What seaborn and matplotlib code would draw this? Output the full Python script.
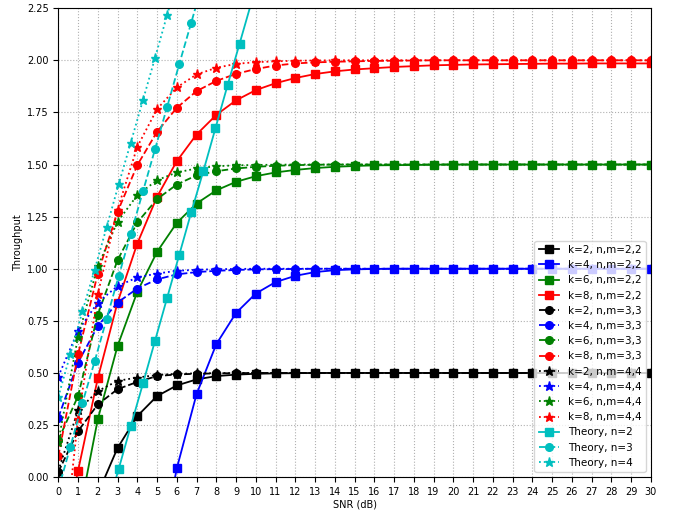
import matplotlib
matplotlib.use('Agg')
import matplotlib.pyplot as plt
import seaborn as sns

# 시뮬레이션 SNR (dB)
snr = [0, 1, 2, 3, 4, 5, 6, 7, 8, 9, 10, 11, 12, 13, 14, 15,
       16, 17, 18, 19, 20, 21, 22, 23, 24, 25, 26, 27, 28, 29, 30]

# n,m = 2,2 (square, solid)
k2_22 = [-0.6, -0.35, -0.08, 0.14, 0.293, 0.389, 0.44, 0.469, 0.485, 0.492, 0.496,
         0.498, 0.499, 0.5, 0.5, 0.5, 0.5, 0.5, 0.5, 0.5, 0.5, 0.5, 0.5, 0.5, 0.5,
         0.5, 0.5, 0.5, 0.5, 0.5, 0.5]
k4_22 = [-2.0, -1.8, -1.5, -1.2, -0.85, -0.45, 0.042, 0.398, 0.638, 0.788, 0.881,
         0.936, 0.966, 0.984, 0.993, 0.997, 0.999, 1.0, 1.0, 1.0, 1.0, 1.0, 1.0, 1.0,
         1.0, 1.0, 1.0, 1.0, 1.0, 1.0, 1.0]
k6_22 = [-0.7, -0.21, 0.278, 0.629, 0.889, 1.081, 1.22, 1.313, 1.376, 1.417, 1.444,
         1.462, 1.474, 1.483, 1.489, 1.493, 1.496, 1.497, 1.498, 1.499, 1.5, 1.5, 1.5,
         1.5, 1.5, 1.5, 1.5, 1.5, 1.5, 1.5, 1.5]
k8_22 = [-0.42, 0.03, 0.474, 0.838, 1.121, 1.345, 1.516, 1.644, 1.738, 1.808, 1.857,
         1.89, 1.915, 1.934, 1.947, 1.956, 1.962, 1.968, 1.972, 1.976, 1.978, 1.98,
         1.981, 1.982, 1.983, 1.984, 1.984, 1.985, 1.985, 1.985, 1.985]

# n,m = 3,3 (circle, dashed)
k2_33 = [0.025, 0.221, 0.349, 0.422, 0.457, 0.485, 0.493, 0.496, 0.498, 0.499, 0.5,
         0.5, 0.5, 0.5, 0.5, 0.5, 0.5, 0.5, 0.5, 0.5, 0.5, 0.5, 0.5, 0.5, 0.5,
         0.5, 0.5, 0.5, 0.5, 0.5, 0.5]
k4_33 = [0.286, 0.55, 0.725, 0.838, 0.905, 0.949, 0.973, 0.984, 0.99, 0.994, 0.997,
         0.998, 0.999, 1.0, 1.0, 1.0, 1.0, 1.0, 1.0, 1.0, 1.0, 1.0, 1.0, 1.0,
         1.0, 1.0, 1.0, 1.0, 1.0, 1.0, 1.0]
k6_33 = [0.178, 0.389, 0.78, 1.041, 1.222, 1.334, 1.404, 1.448, 1.468, 1.481, 1.489,
         1.494, 1.497, 1.499, 1.5, 1.5, 1.5, 1.5, 1.5, 1.5, 1.5, 1.5, 1.5,
         1.5, 1.5, 1.5, 1.5, 1.5, 1.5, 1.5, 1.5]
k8_33 = [0.1, 0.589, 0.977, 1.273, 1.497, 1.657, 1.772, 1.852, 1.901, 1.935, 1.958,
         1.975, 1.985, 1.99, 1.993, 1.995, 1.997, 1.998, 1.999, 2.0, 2.0, 2.0, 2.0,
         2.0, 2.0, 2.0, 2.0, 2.0, 2.0, 2.0, 2.0]

# n,m = 4,4 (star, dotted)
k2_44 = [0.03, 0.321, 0.413, 0.462, 0.478, 0.49, 0.496, 0.498, 0.499, 0.5, 0.5,
         0.5, 0.5, 0.5, 0.5, 0.5, 0.5, 0.5, 0.5, 0.5, 0.5, 0.5, 0.5, 0.5, 0.5,
         0.5, 0.5, 0.5, 0.5, 0.5, 0.5]
k4_44 = [0.483, 0.702, 0.838, 0.917, 0.958, 0.977, 0.99, 0.995, 0.998, 0.999, 1.0,
         1.0, 1.0, 1.0, 1.0, 1.0, 1.0, 1.0, 1.0, 1.0, 1.0, 1.0, 1.0, 1.0,
         1.0, 1.0, 1.0, 1.0, 1.0, 1.0, 1.0]
k6_44 = [0.17, 0.673, 1.012, 1.225, 1.353, 1.425, 1.462, 1.481, 1.492, 1.496, 1.498,
         1.499, 1.5, 1.5, 1.5, 1.5, 1.5, 1.5, 1.5, 1.5, 1.5, 1.5, 1.5,
         1.5, 1.5, 1.5, 1.5, 1.5, 1.5, 1.5, 1.5]
k8_44 = [-0.6, 0.28, 0.877, 1.284, 1.585, 1.766, 1.87, 1.932, 1.964, 1.983, 1.991,
         1.995, 1.998, 1.999, 2.0, 2.0, 2.0, 2.0, 2.0, 2.0, 2.0, 2.0, 2.0,
         2.0, 2.0, 2.0, 2.0, 2.0, 2.0, 2.0, 2.0]

# 이론값 (SNR 간격이 다름)
theory_n2_snr = [2.45, 3.06, 3.67, 4.29, 4.90, 5.51, 6.12, 6.73, 7.35, 7.96, 8.57, 9.18, 9.80]
theory_n2 = [-0.16, 0.04, 0.245, 0.45, 0.655, 0.86, 1.065, 1.27, 1.47, 1.675, 1.88, 2.08, 2.285]
theory_n3_snr = [0.0, 0.61, 1.22, 1.84, 2.45, 3.06, 3.67, 4.29, 4.90, 5.51, 6.12, 6.73, 7.35]
theory_n3 = [-0.06, 0.145, 0.355, 0.555, 0.76, 0.965, 1.166, 1.372, 1.574, 1.776, 1.98, 2.18, 2.385]
theory_n4_snr = [0.0, 0.61, 1.22, 1.84, 2.45, 3.06, 3.67, 4.29, 4.90, 5.51, 6.12]
theory_n4 = [0.385, 0.59, 0.795, 0.995, 1.2, 1.406, 1.605, 1.81, 2.012, 2.217, 2.42]

cyan = (0, 0.75, 0.75)
green = (0, 0.5, 0)

series = [
    (snr, k2_22, 'k', 's', '-', 'k=2, n,m=2,2'),
    (snr, k4_22, 'b', 's', '-', 'k=4, n,m=2,2'),
    (snr, k6_22, green, 's', '-', 'k=6, n,m=2,2'),
    (snr, k8_22, 'r', 's', '-', 'k=8, n,m=2,2'),
    (snr, k2_33, 'k', 'o', '--', 'k=2, n,m=3,3'),
    (snr, k4_33, 'b', 'o', '--', 'k=4, n,m=3,3'),
    (snr, k6_33, green, 'o', '--', 'k=6, n,m=3,3'),
    (snr, k8_33, 'r', 'o', '--', 'k=8, n,m=3,3'),
    (snr, k2_44, 'k', '*', ':', 'k=2, n,m=4,4'),
    (snr, k4_44, 'b', '*', ':', 'k=4, n,m=4,4'),
    (snr, k6_44, green, '*', ':', 'k=6, n,m=4,4'),
    (snr, k8_44, 'r', '*', ':', 'k=8, n,m=4,4'),
    (theory_n2_snr, theory_n2, cyan, 's', '-', 'Theory, n=2'),
    (theory_n3_snr, theory_n3, cyan, 'o', '--', 'Theory, n=3'),
    (theory_n4_snr, theory_n4, cyan, '*', ':', 'Theory, n=4'),
]

fig, ax = plt.subplots(figsize=(6.73, 5.12), dpi=100)
fig.subplots_adjust(left=0.0866, right=0.967, bottom=0.068, top=0.984)

for x, y, c, m, ls, lab in series:
    ms = 6.5 if m == '*' else 5.5
    sns.lineplot(x=x, y=y, ax=ax, color=c, marker=m, linestyle=ls, linewidth=1.3,
                 markersize=ms, markeredgecolor=c, markeredgewidth=1, label=lab,
                 sort=False)

ax.set_xlim(0, 30)
ax.set_ylim(0, 2.25)
ax.set_xticks(range(0, 31))
ax.set_yticks([0, 0.25, 0.5, 0.75, 1.0, 1.25, 1.5, 1.75, 2.0, 2.25])
ax.yaxis.set_major_formatter(matplotlib.ticker.FormatStrFormatter('%.2f'))
ax.tick_params(labelsize=7)
ax.grid(True, linestyle=':', color='#b0b0b0', linewidth=0.8)
ax.set_xlabel('SNR (dB)', fontsize=7, labelpad=2)
ax.set_ylabel('Throughput', fontsize=7, labelpad=3)
ax.legend(loc='lower right', fontsize=7.5)

plt.savefig('out.png', dpi=100)
